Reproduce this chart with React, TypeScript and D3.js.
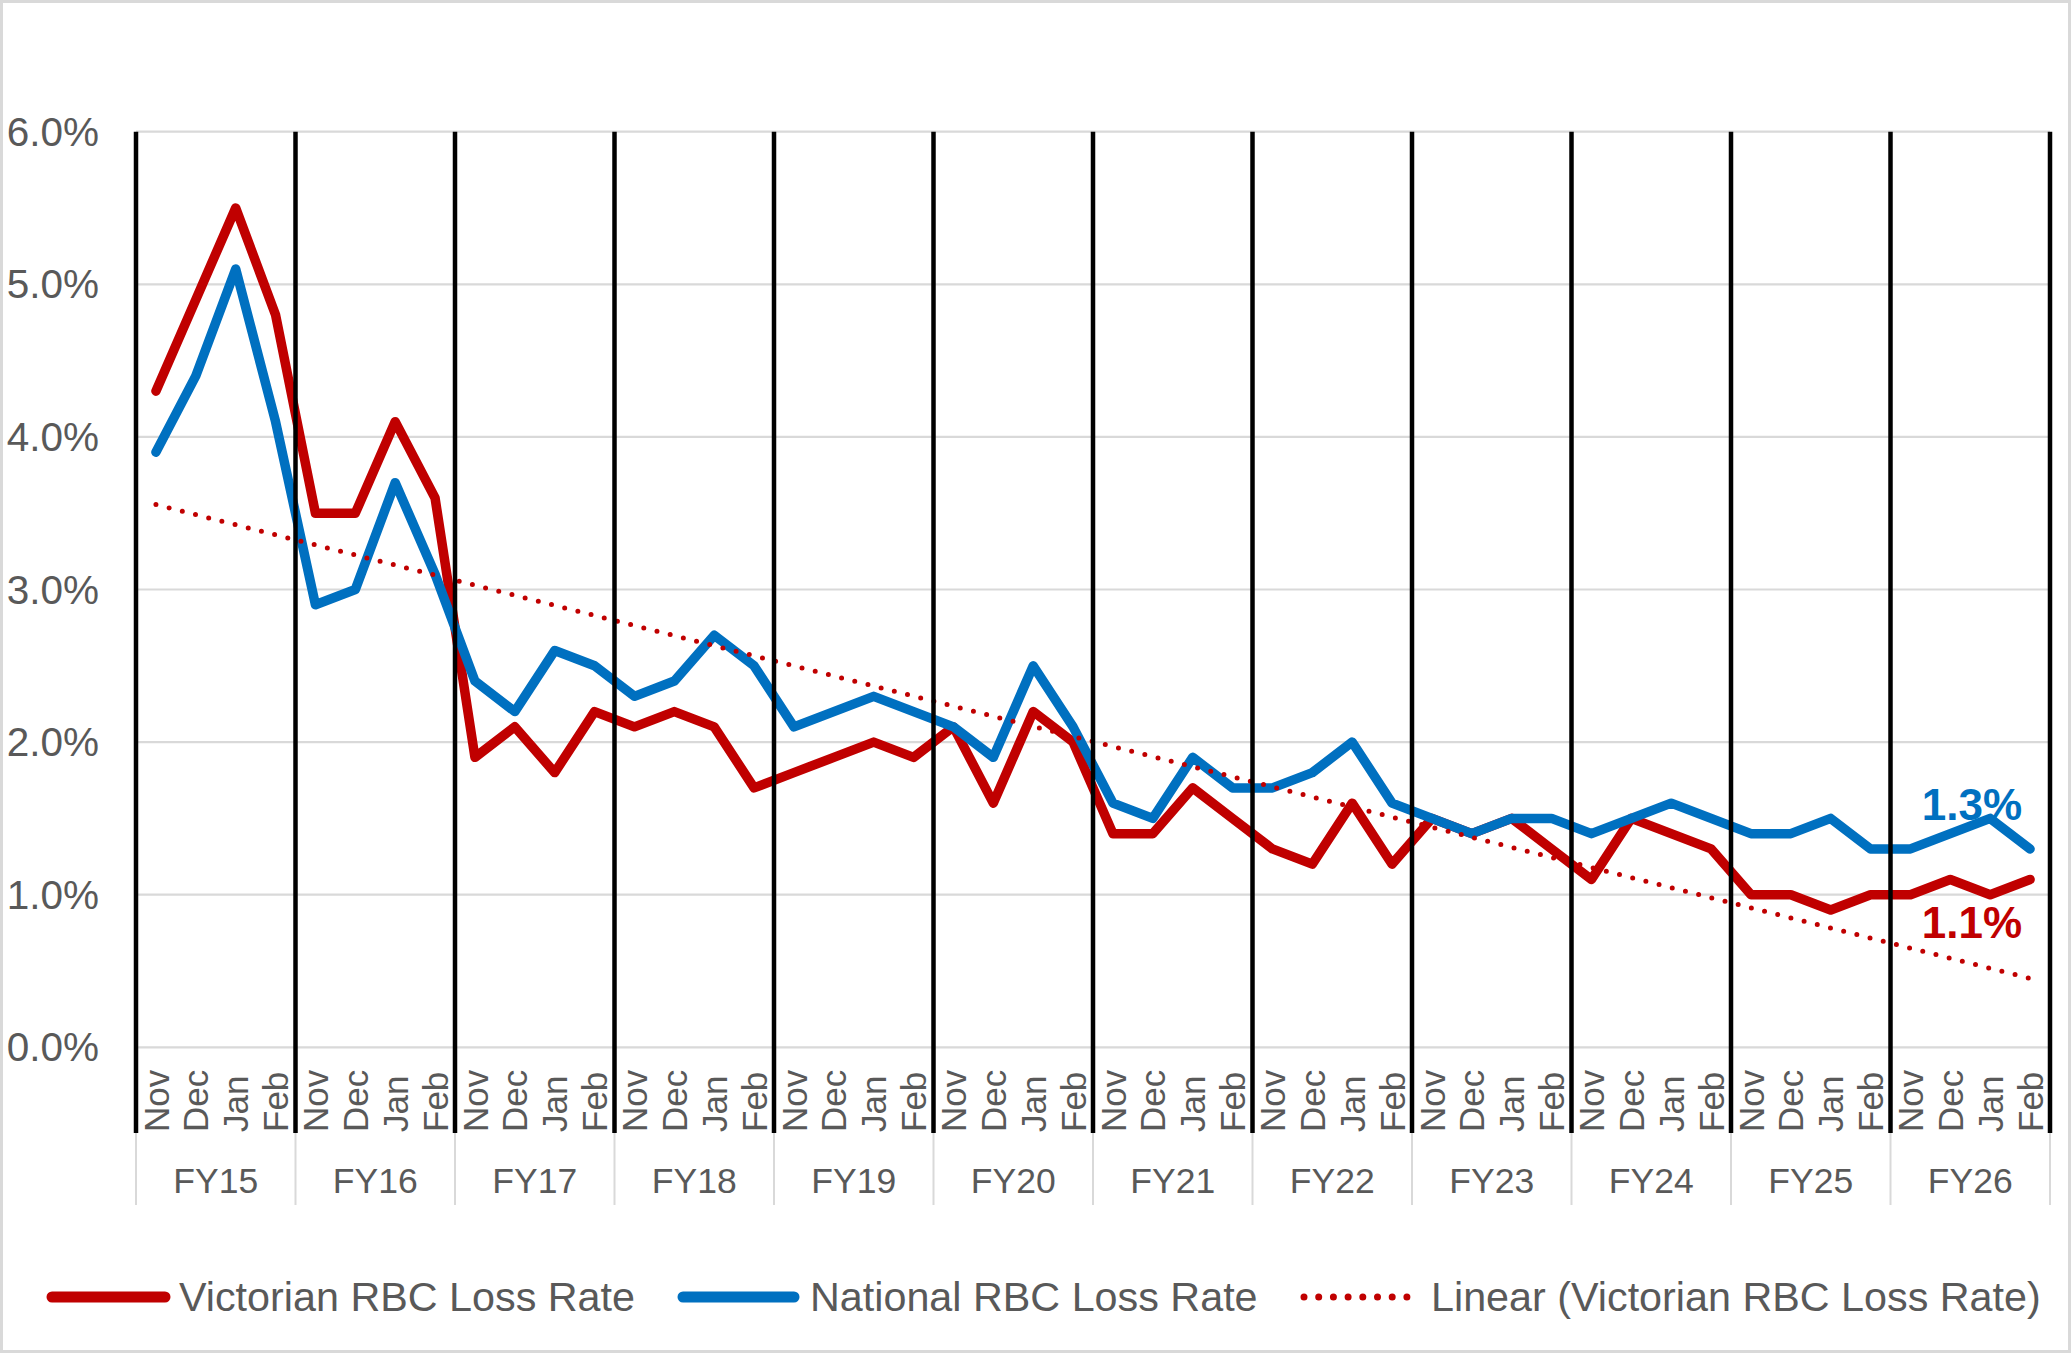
import React from "react";
import * as d3 from "d3";

const fiscalYears = ["FY15", "FY16", "FY17", "FY18", "FY19", "FY20", "FY21", "FY22", "FY23", "FY24", "FY25", "FY26"];
const months = ["Nov", "Dec", "Jan", "Feb"];

// Victorian RBC Loss Rate (%), Nov..Feb per fiscal year
const victorian = [
  4.3, 4.9, 5.5, 4.8,
  3.5, 3.5, 4.1, 3.6,
  1.9, 2.1, 1.8, 2.2,
  2.1, 2.2, 2.1, 1.7,
  1.8, 1.9, 2.0, 1.9,
  2.1, 1.6, 2.2, 2.0,
  1.4, 1.4, 1.7, 1.5,
  1.3, 1.2, 1.6, 1.2,
  1.5, 1.4, 1.5, 1.3,
  1.1, 1.5, 1.4, 1.3,
  1.0, 1.0, 0.9, 1.0,
  1.0, 1.1, 1.0, 1.1,
];

// National RBC Loss Rate (%)
const national = [
  3.9, 4.4, 5.1, 4.1,
  2.9, 3.0, 3.7, 3.1,
  2.4, 2.2, 2.6, 2.5,
  2.3, 2.4, 2.7, 2.5,
  2.1, 2.2, 2.3, 2.2,
  2.1, 1.9, 2.5, 2.1,
  1.6, 1.5, 1.9, 1.7,
  1.7, 1.8, 2.0, 1.6,
  1.5, 1.4, 1.5, 1.5,
  1.4, 1.5, 1.6, 1.5,
  1.4, 1.4, 1.5, 1.3,
  1.3, 1.4, 1.5, 1.3,
];

const yTicks = [0, 1, 2, 3, 4, 5, 6];

const legendItems = [
  { label: "Victorian RBC Loss Rate", color: "#C00000", kind: "solid" },
  { label: "National RBC Loss Rate", color: "#0070C0", kind: "solid" },
  { label: "Linear (Victorian RBC Loss Rate)", color: "#C00000", kind: "dotted" },
];

const W = 2071;
const H = 1353;
const M = { left: 136, right: 2050, top: 131.7, bottom: 1047.3 };
const FONT = "'Liberation Sans', Arial, sans-serif";
const TEXT = "#595959";
const GRID = "#d9d9d9";
const RED = "#C00000";
const BLUE = "#0070C0";

export default function App() {
  const cats = fiscalYears.flatMap((fy) => months.map((m) => `${fy}|${m}`));
  const x = d3.scaleBand<string>().domain(cats).range([M.left, M.right]).padding(0);
  const y = d3.scaleLinear().domain([0, 6]).range([M.bottom, M.top]);
  const cx = (i: number) => (x(cats[i]) as number) + x.bandwidth() / 2;

  const line = d3
    .line<number>()
    .x((_, i) => cx(i))
    .y((v) => y(v));

  // linear trend (least squares) of Victorian series
  const n = victorian.length;
  const xs = d3.range(n);
  const mx = d3.mean(xs) as number;
  const my = d3.mean(victorian) as number;
  const slope =
    d3.sum(xs, (i) => (i - mx) * (victorian[i] - my)) / d3.sum(xs, (i) => (i - mx) * (i - mx));
  const intercept = my - slope * mx;
  const trend = [intercept, intercept + slope * (n - 1)];

  const groupBoundaries = fiscalYears.map((fy) => x(`${fy}|Nov`) as number).concat([M.right]);

  const lastI = n - 1;
  const legendY = 1297;
  const legendLayout = [
    { x0: 47, x1: 170, tx: 179 },
    { x0: 678, x1: 799, tx: 810 },
    { x0: 1301, x1: 1418, tx: 1431 },
  ];

  return (
    <svg
      width={W}
      height={H}
      viewBox={`0 0 ${W} ${H}`}
      style={{ position: "absolute", left: 0, top: 0, background: "#fff" }}
      fontFamily={FONT}
    >
      <rect x={1.5} y={1.5} width={W - 3} height={H - 3} fill="#fff" stroke={GRID} strokeWidth={3} />

      {/* gridlines */}
      {yTicks.map((t) => (
        <line key={t} x1={M.left} x2={M.right} y1={y(t)} y2={y(t)} stroke={GRID} strokeWidth={2.2} />
      ))}

      {/* y axis labels */}
      {yTicks.map((t) => (
        <text
          key={t}
          x={99}
          y={y(t)}
          dy="0.35em"
          textAnchor="end"
          fontSize={40.5}
          fill={TEXT}
        >
          {d3.format(".1f")(t) + "%"}
        </text>
      ))}

      {/* category group separators */}
      {groupBoundaries.map((gx, i) => (
        <line key={i} x1={gx} x2={gx} y1={M.bottom} y2={1205} stroke={GRID} strokeWidth={2} />
      ))}

      {/* month labels */}
      {cats.map((c, i) => (
        <text
          key={c}
          transform={`translate(${cx(i)},1132) rotate(-90)`}
          dy="0.36em"
          textAnchor="start"
          fontSize={35}
          fill={TEXT}
        >
          {c.split("|")[1]}
        </text>
      ))}

      {/* fiscal year labels */}
      {fiscalYears.map((fy) => (
        <text
          key={fy}
          x={(x(`${fy}|Nov`) as number) + x.bandwidth() * 2}
          y={1193}
          textAnchor="middle"
          fontSize={35.5}
          fill={TEXT}
        >
          {fy}
        </text>
      ))}

      {/* series */}
      <path d={line(victorian) as string} fill="none" stroke={RED} strokeWidth={9.5} strokeLinejoin="round" strokeLinecap="round" />
      <path d={line(national) as string} fill="none" stroke={BLUE} strokeWidth={9.5} strokeLinejoin="round" strokeLinecap="round" />

      {/* trend line */}
      <line
        x1={cx(0)}
        x2={cx(lastI)}
        y1={y(trend[0])}
        y2={y(trend[1])}
        stroke={RED}
        strokeWidth={5}
        strokeLinecap="round"
        strokeDasharray="0 13.6"
      />

      {/* fiscal year divider lines */}
      {groupBoundaries.map((gx, i) => (
        <line key={i} x1={gx} x2={gx} y1={M.top} y2={1133} stroke="#000" strokeWidth={4.5} />
      ))}

      {/* end labels */}
      <text
        x={cx(lastI) - 8}
        y={y(national[lastI]) - 29}
        textAnchor="end"
        fontSize={44}
        fontWeight="bold"
        fill={BLUE}
      >
        {d3.format(".1f")(national[lastI]) + "%"}
      </text>
      <text
        x={cx(lastI) - 8}
        y={y(victorian[lastI]) + 59}
        textAnchor="end"
        fontSize={44}
        fontWeight="bold"
        fill={RED}
      >
        {d3.format(".1f")(victorian[lastI]) + "%"}
      </text>

      {/* legend */}
      {legendItems.map((it, i) => {
        const L = legendLayout[i];
        return (
          <g key={it.label}>
            {it.kind === "solid" ? (
              <line x1={L.x0 + 5} x2={L.x1 - 5} y1={legendY} y2={legendY} stroke={it.color} strokeWidth={11} strokeLinecap="round" />
            ) : (
              <line x1={L.x0 + 3} x2={L.x1} y1={legendY} y2={legendY} stroke={it.color} strokeWidth={7} strokeLinecap="round" strokeDasharray="0 14.7" />
            )}
            <text x={L.tx} y={1311} fontSize={41.3} fill={TEXT}>
              {it.label}
            </text>
          </g>
        );
      })}
    </svg>
  );
}
